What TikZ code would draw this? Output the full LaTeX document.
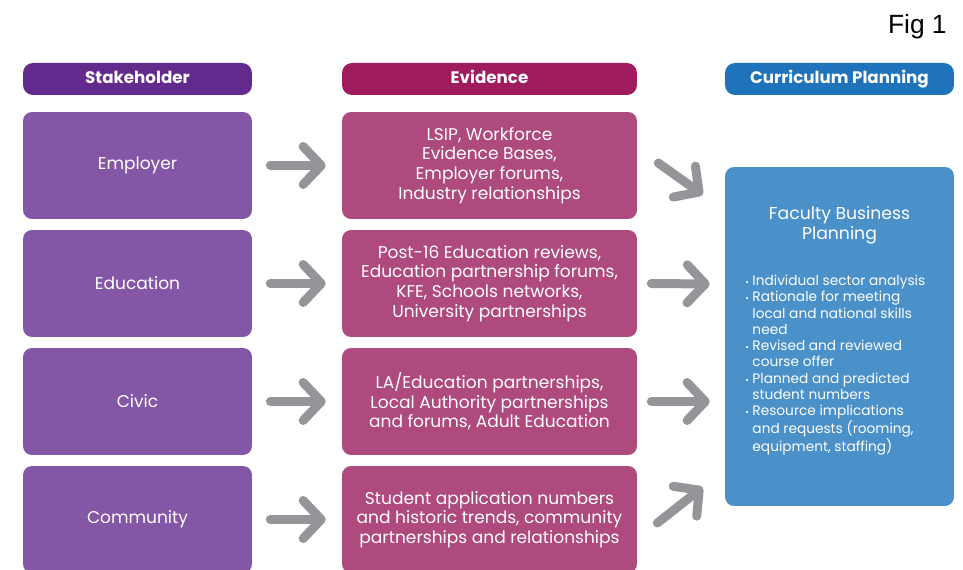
\documentclass[tikz,border=0pt]{standalone}
\usepackage{fontspec}
\setmainfont{Poppins}
\newfontfamily\figfont{Liberation Sans}
\usetikzlibrary{arrows.meta}

% palette
\definecolor{stakeHead}{HTML}{622A8D}
\definecolor{stakeBox}{HTML}{8357A5}
\definecolor{evidHead}{HTML}{A01B5D}
\definecolor{evidBox}{HTML}{AE4A7D}
\definecolor{planHead}{HTML}{1F73BA}
\definecolor{planBox}{HTML}{4A90C9}
\definecolor{arrowGrey}{HTML}{939598}

\tikzset{
  headbox/.style={rectangle, rounded corners=0.2cm, minimum height=0.64cm,
    inner sep=0pt, text height=0.72em, text depth=0.18em, text=white,
    font=\bfseries\fontsize{9.5}{11}\selectfont},
  cellbox/.style={rectangle, rounded corners=0.18cm, minimum height=2.14cm,
    inner sep=0pt, text=white, align=center, font=\fontsize{9.7}{11.2}\selectfont},
  flowarrow/.style={draw=arrowGrey, line width=0.18cm, line cap=round,
    -{Straight Barb[length=0.36cm, width=0.76cm, round]}},
}

\begin{document}
\begin{tikzpicture}[x=0.02cm, y=-0.02cm]
  \clip (0,0) rectangle (963,570);
  \useasboundingbox (0,0) rectangle (963,570);

  \node[font=\figfont\fontsize{15}{17}\selectfont, anchor=base east, inner sep=0pt] (fig) at (947,34) {Fig 1};

  % column heads
  \node[headbox, fill=stakeHead, minimum width=4.58cm] (shead) at (137.5,79) {Stakeholder};
  \node[headbox, fill=evidHead,  minimum width=5.90cm] (ehead) at (489.5,79) {Evidence};
  \node[headbox, fill=planHead,  minimum width=4.58cm] (phead) at (839.5,79) {Curriculum Planning};

  % stakeholders
  \node[cellbox, fill=stakeBox, minimum width=4.58cm] (st1) at (137.5,165.5) {Employer};
  \node[cellbox, fill=stakeBox, minimum width=4.58cm] (st2) at (137.5,283.5) {Education};
  \node[cellbox, fill=stakeBox, minimum width=4.58cm] (st3) at (137.5,401.5) {Civic};
  \node[cellbox, fill=stakeBox, minimum width=4.58cm] (st4) at (137.5,519.5) {Community};

  % evidence
  \node[cellbox, fill=evidBox, minimum width=5.90cm] (ev1) at (489.5,165.5)
    {LSIP, Workforce\\Evidence Bases,\\Employer forums,\\Industry relationships};
  \node[cellbox, fill=evidBox, minimum width=5.90cm] (ev2) at (489.5,283.5)
    {Post-16 Education reviews,\\Education partnership forums,\\KFE, Schools networks,\\University partnerships};
  \node[cellbox, fill=evidBox, minimum width=5.90cm] (ev3) at (489.5,401.5)
    {LA/Education partnerships,\\Local Authority partnerships\\and forums, Adult Education};
  \node[cellbox, fill=evidBox, minimum width=5.90cm] (ev4) at (489.5,519.5)
    {Student application numbers\\and historic trends, community\\partnerships and relationships};

  % planning
  \node[rectangle, rounded corners=0.18cm, fill=planBox, minimum width=4.58cm,
    minimum height=6.78cm] (plan) at (839.5,336.5) {};
  \node[text=white, align=center, font=\fontsize{9.8}{11.4}\selectfont] (ptitle)
    at (839.5,225) {Faculty Business\\Planning};
  \node[text=white, anchor=north west, inner sep=0pt,
    font=\fontsize{7.8}{9.25}\selectfont] (plist) at (745,274)
    {\begin{tabular}{@{}l@{\hspace{2pt}}l@{}}
      {\tiny\textbullet} & Individual sector analysis\\
      {\tiny\textbullet} & Rationale for meeting\\
       & local and national skills\\
       & need\\
      {\tiny\textbullet} & Revised and reviewed\\
       & course offer\\
      {\tiny\textbullet} & Planned and predicted\\
       & student numbers\\
      {\tiny\textbullet} & Resource implications\\
       & and requests (rooming,\\
       & equipment, staffing)
    \end{tabular}};

  % stakeholder -> evidence
  \foreach \i in {1,...,4}
    \draw[flowarrow] ([shift={(18,0)}]st\i.east) -- ([shift={(-16,0)}]ev\i.west);

  % evidence -> planning
  \draw[flowarrow] ([shift={(21,-2.5)}]ev1.east) -- ([shift={(-22,28)}]plan.north west);
  \draw[flowarrow] ([shift={(14,0)}]ev2.east) -- ([shift={(-15,-52.5)}]plan.west);
  \draw[flowarrow] ([shift={(14,0)}]ev3.east) -- ([shift={(-15,65)}]plan.west);
  \draw[flowarrow] ([shift={(20,3.5)}]ev4.east) -- ([shift={(-22,-19)}]plan.south west);
\end{tikzpicture}
\end{document}
